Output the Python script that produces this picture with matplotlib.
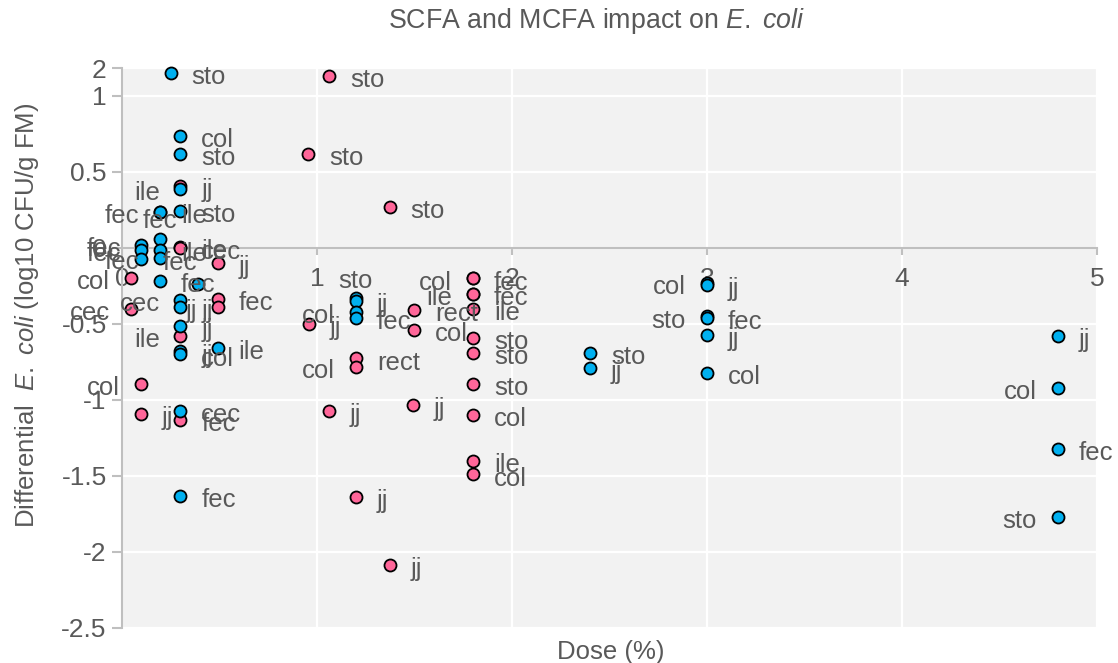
import numpy as np
import matplotlib
matplotlib.use("Agg")
import matplotlib.pyplot as plt

plt.rcParams['font.family'] = ['Liberation Sans', 'DejaVu Sans']
plt.rcParams['mathtext.fontset'] = 'custom'
plt.rcParams['mathtext.rm'] = 'Liberation Sans'
plt.rcParams['mathtext.it'] = 'Liberation Sans:italic'

# 数据: 蓝色系列 (SCFA)
blue_x = [0.25, 0.30, 0.30, 0.30, 0.30, 0.195, 0.195, 0.195, 0.10, 0.10, 0.10,
          0.195, 0.195, 0.195, 0.39, 0.30, 0.30, 0.30, 0.30, 0.30, 0.49, 0.30, 0.30,
          1.2, 1.2, 1.2, 1.2, 2.4, 2.4, 3.0, 3.0, 3.0, 3.0, 3.0, 3.0,
          4.8, 4.8, 4.8, 4.8]
blue_y = [1.82, 0.74, 0.62, 0.39, 0.245, 0.235, 0.235, 0.06, 0.02, -0.01, -0.07,
          -0.013, -0.066, -0.217, -0.24, -0.34, -0.39, -0.51, -0.68, -0.70, -0.66, -1.07, -1.63,
          -0.33, -0.35, -0.42, -0.46, -0.69, -0.79, -0.23, -0.245, -0.45, -0.46, -0.57, -0.82,
          -0.58, -0.92, -1.32, -1.77]
blue_lab = ['sto', 'col', 'sto', 'ile', 'sto', 'fec', 'ile', 'fec', 'fec', 'fec', 'fec',
            'ile', 'fec', 'fec', '', 'cec', 'jj', 'jj', 'jj', 'col', 'ile', 'cec', 'fec',
            'sto', 'jj', 'col', 'fec', 'sto', 'jj', 'col', 'jj', 'sto', 'fec', 'jj', 'col',
            'jj', 'col', 'fec', 'sto']

# 数据: 粉色系列 (MCFA)
pink_x = [1.063, 0.955, 1.374, 0.30, 0.30, 0.30, 0.49, 0.046, 0.046, 0.49, 0.49,
          0.30, 0.097, 0.097, 0.30, 0.96, 1.2, 1.2, 1.06, 1.2, 1.374, 1.5, 1.5, 1.49,
          1.8, 1.8, 1.8, 1.8, 1.8, 1.8, 1.8, 1.8, 1.8, 1.8, 1.8]
pink_y = [1.72, 0.62, 0.27, 0.41, 0.005, 0.0, -0.10, -0.197, -0.40, -0.335, -0.39,
          -0.58, -0.895, -1.09, -1.13, -0.50, -0.726, -0.78, -1.07, -1.64, -2.085, -0.41, -0.54, -1.03,
          -0.20, -0.20, -0.30, -0.30, -0.40, -0.59, -0.69, -0.895, -1.10, -1.40, -1.49]
pink_lab = ['sto', 'sto', 'sto', 'jj', 'ile', 'cec', 'jj', 'col', 'cec', 'fec', 'jj',
            'ile', 'col', 'jj', 'fec', 'jj', 'rect', 'col', 'jj', 'jj', 'jj', 'rect', 'col', 'jj',
            'fec', 'col', 'fec', 'ile', 'ile', 'sto', 'sto', 'sto', 'col', 'ile', 'col']

# 标签位置 (r=右, l=左, u=上)
blue_side = ['r', 'r', 'r', 'l', 'r', 'l', 'r', 'u', 'l', 'l', 'r',
             'r', 'l', 'r', 'r', 'l', 'r', 'r', 'r', 'r', 'r', 'r', 'r',
             'u', 'r', 'l', 'r', 'r', 'r', 'l', 'r', 'l', 'r', 'r', 'r',
             'r', 'l', 'r', 'l']
pink_side = ['r', 'r', 'r', 'r', 'r', 'r', 'r', 'l', 'l', 'r', 'l',
             'l', 'l', 'r', 'r', 'r', 'r', 'l', 'r', 'r', 'r', 'r', 'r', 'r',
             'r', 'l', 'r', 'l', 'r', 'r', 'r', 'r', 'r', 'r', 'r']

y_ticks = [-2.5, -2, -1.5, -1, -0.5, 0, 0.5, 1, 2]
y_tick_labels = ['-2.5', '-2', '-1.5', '-1', '-0.5', '0', '0.5', '1', '2']
x_ticks = [0, 1, 2, 3, 4, 5]

TXT = '#595959'
AXC = '#bfbfbf'
BLUE = '#00b0f0'
PINK = '#ff6699'


# y轴在1以上压缩
def fwd(y):
    y = np.asarray(y, dtype=float)
    return np.where(y <= 1, y, 1 + (y - 1) * 0.184)


def inv(v):
    v = np.asarray(v, dtype=float)
    return np.where(v <= 1, v, 1 + (v - 1) / 0.184)


fig = plt.figure(figsize=(11.18, 6.63), dpi=100)
ax = fig.add_axes([0.1091, 0.0528, 0.8721, 0.8446])
ax.set_facecolor('#f2f2f2')
ax.set_yscale('function', functions=(fwd, inv))
ax.set_xlim(0, 5)
ax.set_ylim(-2.5, 2)

ax.set_yticks(y_ticks)
ax.set_yticklabels(y_tick_labels)
ax.set_xticks(x_ticks)
ax.set_xticklabels([str(t) for t in x_ticks])
ax.grid(True, color='white', linewidth=1.6)
ax.set_axisbelow(True)

for s in ['top', 'right']:
    ax.spines[s].set_visible(False)
ax.spines['left'].set_color(AXC)
ax.spines['left'].set_linewidth(1.5)
ax.spines['bottom'].set_color(AXC)
ax.spines['bottom'].set_linewidth(1.5)
ax.spines['bottom'].set_position(('data', 0))
ax.tick_params(axis='both', colors=AXC, labelcolor=TXT, labelsize=19, width=1.5)
ax.tick_params(axis='y', length=7, pad=4)
ax.tick_params(axis='x', length=5, pad=9)


def draw_series(xs, ys, labs, sides, color):
    ax.scatter(xs, ys, s=75, c=color, edgecolors='black', linewidths=1.3, zorder=3, clip_on=False)
    for x, y, lab, side in zip(xs, ys, labs, sides):
        if not lab:
            continue
        if side == 'r':
            off, ha, va = (15, -3), 'left', 'center'
        elif side == 'l':
            off, ha, va = (-15, -3), 'right', 'center'
        else:
            off, ha, va = (0, 4), 'center', 'bottom'
        ax.annotate(lab, (x, y), xytext=off, textcoords='offset points',
                    ha=ha, va=va, fontsize=18.5, color=TXT, zorder=5)


draw_series(pink_x, pink_y, pink_lab, pink_side, PINK)
draw_series(blue_x, blue_y, blue_lab, blue_side, BLUE)

fig.text(0.534, 0.968, r'SCFA and MCFA impact on $\it{E.}$ $\it{coli}$', ha='center', va='center',
         fontsize=19.3, color=TXT)
fig.text(0.546, 0.017, 'Dose (%)', ha='center', va='center', fontsize=18.5, color=TXT)
fig.text(0.024, 0.525, r'Differential  $\it{E.}$ $\it{coli}$ (log10 CFU/g FM)', ha='center', va='center',
         rotation=90, fontsize=18.5, color=TXT)

fig.savefig('out.png', dpi=100)
